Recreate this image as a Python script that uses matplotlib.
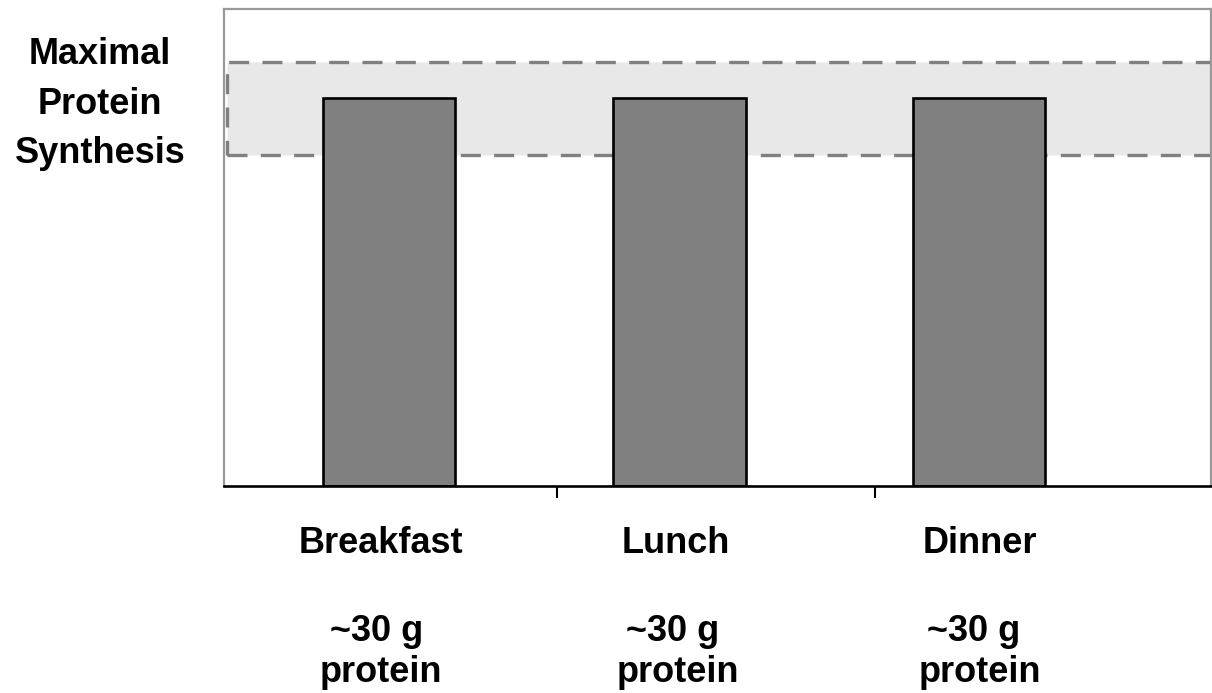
import matplotlib.pyplot as plt
from matplotlib.patches import Rectangle

plt.rcParams['font.family'] = ['Liberation Sans', 'DejaVu Sans']

meals = ["Breakfast", "Lunch", "Dinner"]
protein_labels = ["~30 g", "~30 g", "~30 g"]
synthesis = [100, 100, 100]
band_low, band_high = 85.3, 109.3   # range of maximal synthesis
tick_pos = [0.569, 1.647]

fig = plt.figure(figsize=(12.12, 6.93), dpi=100)
ax = fig.add_axes([0.1848, 0.2987, 0.8144, 0.6883])

x = [0, 0.985, 2]

# shaded band with dashed border
band = Rectangle((-0.548, band_low), 4.0, band_high - band_low,
                 facecolor="#e8e8e8", edgecolor="#808080",
                 linewidth=2.4, linestyle=(0, (6, 4)), zorder=1)
ax.add_patch(band)

ax.bar(x, synthesis, width=0.45, color="#808080", edgecolor="black",
       linewidth=1.9, zorder=3)

ax.set_xlim(-0.559, 2.786)
ax.set_ylim(0, 123)

for side in ["left", "top", "right"]:
    ax.spines[side].set_color("#999999")
    ax.spines[side].set_linewidth(1.6)
ax.spines["bottom"].set_color("black")
ax.spines["bottom"].set_linewidth(1.9)
ax.spines["bottom"].set_zorder(4)

ax.set_yticks([])
ax.set_xticks(tick_pos)
ax.set_xticklabels([])
ax.tick_params(axis="x", direction="out", length=8.5, width=1.5, color="black")

# meal labels under the axis
fs = 26
meal_x = [-0.027, 0.973, 2.003]
gram_x = [-0.041, 0.962, 1.982]
prot_x = [-0.027, 0.979, 2.003]
trans = ax.get_xaxis_transform()
for i in range(len(meals)):
    ax.text(meal_x[i], -0.121, meals[i], transform=trans, ha="center",
            va="center", fontsize=fs, fontweight="bold")
    ax.text(gram_x[i], -0.306, protein_labels[i], transform=trans, ha="center",
            va="center", fontsize=fs, fontweight="bold")
    ax.text(prot_x[i], -0.392, "protein", transform=trans, ha="center",
            va="center", fontsize=fs, fontweight="bold")

# label for the band
for yy, word in zip([0.921, 0.849, 0.779], ["Maximal", "Protein", "Synthesis"]):
    fig.text(0.0825, yy, word, ha="center", va="center", fontsize=fs,
             fontweight="bold")

fig.savefig("out.png", dpi=100)
